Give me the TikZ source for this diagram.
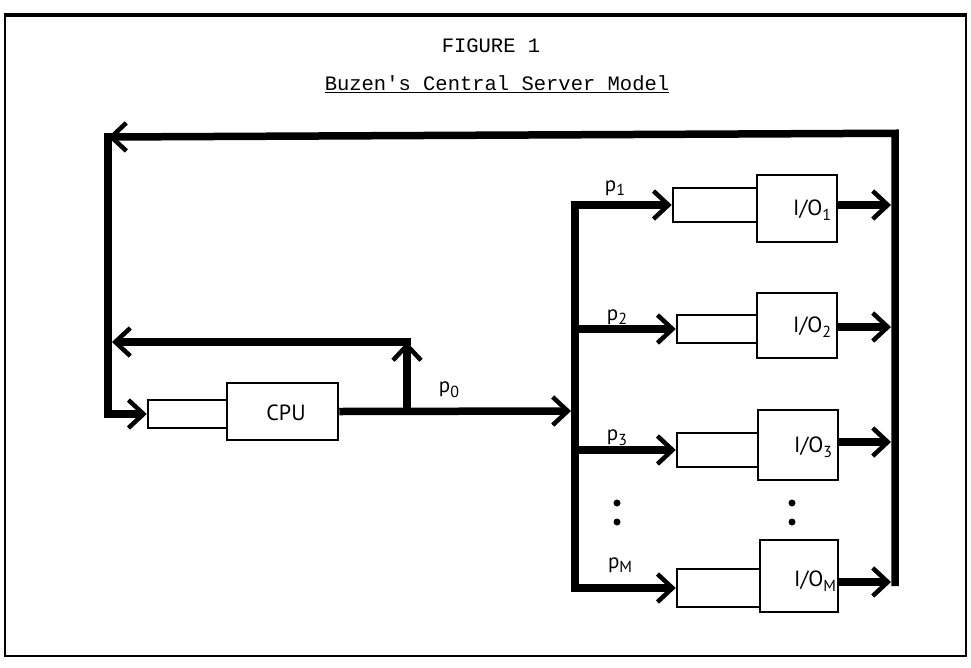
\documentclass[tikz,border=0pt]{standalone}
\usepackage{fontspec}
\setmainfont{PT Sans}
\newfontfamily\typew{Liberation Mono}
\usetikzlibrary{arrows.meta}
\newcommand\lowsub[1]{\raisebox{-0.45ex}{\fontsize{16}{16}\selectfont #1}}
\begin{document}
\begin{tikzpicture}[x=1pt,y=-1pt,
 bus/.style={line width=7.5pt, line join=miter, line cap=butt},
 arr/.style={bus, -{Straight Barb[length=15pt,width=28pt,line width=4.5pt]}},
 boxstyle/.style={draw, line width=2.5pt, inner sep=0pt, fill=white},
 lbl/.style={font=\fontsize{21}{23}\selectfont, inner sep=0pt},
 boxlbl/.style={font=\fontsize{22}{24}\selectfont, inner sep=0pt, anchor=east},
 ttl/.style={font=\typew\fontsize{20.5}{22}\selectfont, inner sep=0pt},
]
\useasboundingbox (0,0) rectangle (971,667);
\draw[line width=2pt] (5,14) rectangle (966,656);
\draw[line width=4pt] (5,15) -- (966,15);

% titles
\node[ttl] (fig) at (491,46) {FIGURE 1};
\node[ttl] (title) at (497,84) {\underline{Buzen's Central Server Model}};

% CPU
\node[boxstyle, minimum width=111pt, minimum height=57pt] (cpu) at (282.5,411.5) {};
\node[boxstyle, minimum width=79pt, minimum height=28pt] (cpuq) at (187.5,414) {};
\node[font=\fontsize{22}{24}\selectfont, inner sep=0pt] (cpul) at (286,413) {CPU};

% I/O devices
\node[boxstyle, minimum width=84pt, minimum height=34pt] (q1) at (715,205) {};
\node[boxstyle, minimum width=80pt, minimum height=67pt] (io1) at (797,208.5) {};
\node[boxstyle, minimum width=80pt, minimum height=28pt] (q2) at (717,329) {};
\node[boxstyle, minimum width=80pt, minimum height=65pt] (io2) at (797,325.5) {};
\node[boxstyle, minimum width=81pt, minimum height=34pt] (q3) at (717.5,450) {};
\node[boxstyle, minimum width=80pt, minimum height=70pt] (io3) at (798,445) {};
\node[boxstyle, minimum width=83pt, minimum height=38pt] (qM) at (718.5,588) {};
\node[boxstyle, minimum width=78pt, minimum height=72pt] (ioM) at (799,576) {};

\node[boxlbl] (l1) at ([xshift=-7pt,yshift=-2pt]io1.east) {I/O\lowsub{1}};
\node[boxlbl] (l2) at ([xshift=-7pt,yshift=-2pt]io2.east) {I/O\lowsub{2}};
\node[boxlbl] (l3) at ([xshift=-7pt,yshift=-2pt]io3.east) {I/O\lowsub{3}};
\node[boxlbl] (lM) at ([xshift=-3pt,yshift=-5pt]ioM.east) {I/O\lowsub{M}};

% probability labels
\node[lbl] (p0) at (449,390) {p\lowsub{0}};
\node[lbl] (p1) at (615,188) {p\lowsub{1}};
\node[lbl] (p2) at (617,317) {p\lowsub{2}};
\node[lbl] (p3) at (617,438) {p\lowsub{3}};
\node[lbl] (pM) at (620,565) {p\lowsub{M}};

% coordinates
\coordinate (rb) at (895,586);
\coordinate (tr) at (895,137);
\coordinate (tl) at (108,137);
\coordinate (j) at (407,411);
\coordinate (jt) at (407,342);
\coordinate (jl) at (112,342);
\coordinate (b0) at (571,411);
\coordinate (bM) at (575,588);
\coordinate (b2) at (575,329);
\coordinate (b3) at (575,450);
\coordinate (o1) at (891,205);
\coordinate (o2) at (891,327);
\coordinate (o3) at (891,442);
\coordinate (oM) at (891,582);

% feedback loops
\draw[arr] (rb) -- ([yshift=3.75pt]tr) -- (tl);
\draw[arr] ([yshift=3.75pt]tl) |- (cpuq.west);
\draw[arr] (cpu.east) -- (b0);
\draw[arr] (j) -- (jt);
\draw[arr] ([xshift=3.75pt]jt) -- (jl);

% branching
\draw[arr] (bM) |- (q1.west);
\draw[arr] (b2) -- (q2.west);
\draw[arr] (b3) -- (q3.west);
\draw[arr] ([xshift=-3.75pt]bM) -- (qM.west);

% outputs
\draw[arr] (io1.east |- o1) -- (o1);
\draw[arr] (io2.east |- o2) -- (o2);
\draw[arr] (io3.east |- o3) -- (o3);
\draw[arr] (ioM.east |- oM) -- (oM);

% ellipsis dots
\fill (617,503) circle (3.5);
\fill (617,522) circle (3.5);
\fill (792,503) circle (3.5);
\fill (792,522) circle (3.5);
\end{tikzpicture}
\end{document}
